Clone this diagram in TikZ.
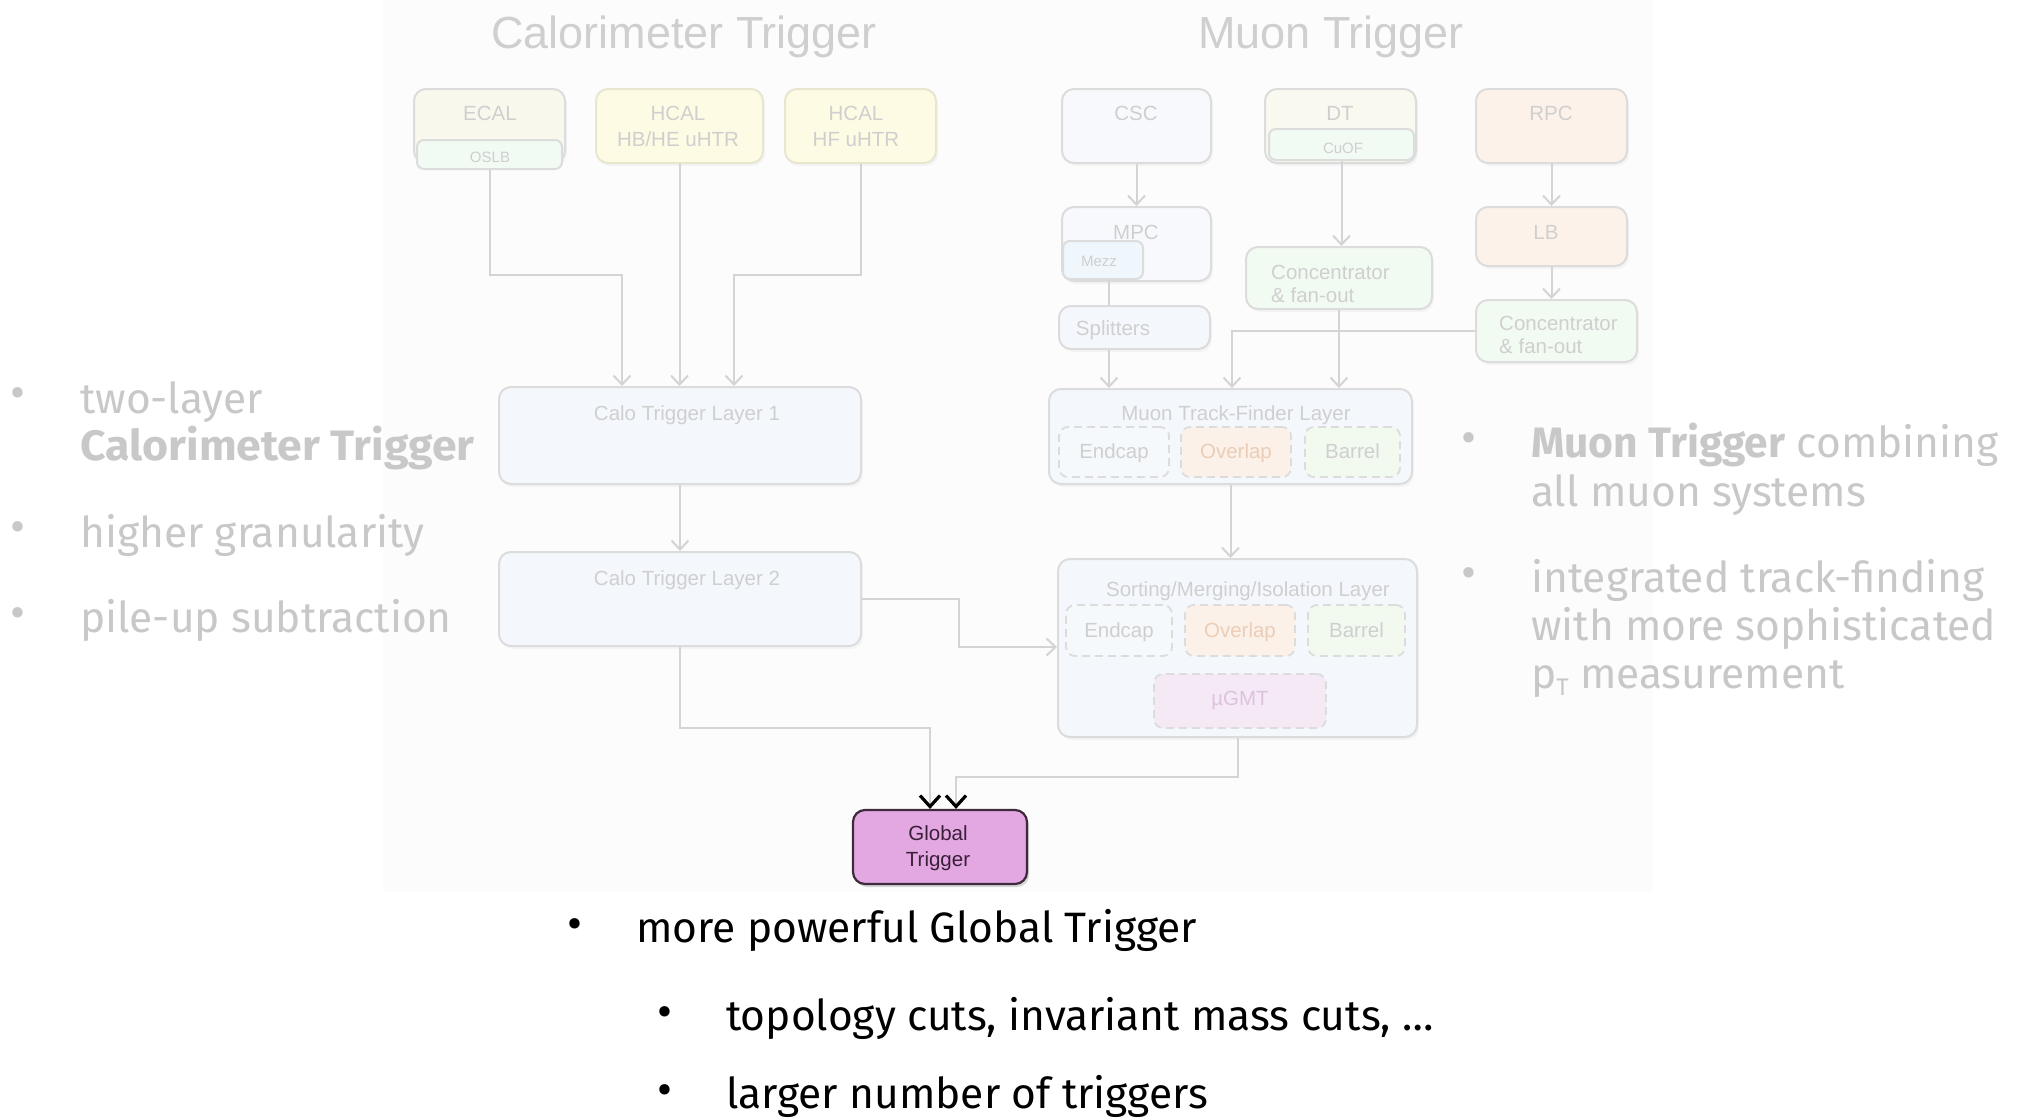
\documentclass[tikz,border=0pt]{standalone}
\usepackage{fontspec}
\setmainfont{Liberation Sans}
\newfontfamily\fira{Fira Sans}
\usetikzlibrary{arrows.meta,fit,calc,shadows}
\definecolor{fadetxt}{HTML}{C8C8C8}
\definecolor{boxtxt}{HTML}{CFCFCF}
\definecolor{edge}{HTML}{DCDCDC}
\definecolor{linec}{HTML}{D4D4D4}
\definecolor{bgc}{HTML}{FCFCFC}
\definecolor{ecalfill}{HTML}{F8F8EC}
\definecolor{oslbfill}{HTML}{F1FAF3}
\definecolor{hcalfill}{HTML}{FDFBE4}
\definecolor{hcaledge}{HTML}{E9E6D0}
\definecolor{cscfill}{HTML}{F8F9FC}
\definecolor{dtfill}{HTML}{FAF9EF}
\definecolor{rpcfill}{HTML}{FDF2EA}
\definecolor{concfill}{HTML}{F2FBF2}
\definecolor{layerfill}{HTML}{F4F8FC}
\definecolor{endcapfill}{HTML}{F6F9FC}
\definecolor{overlapfill}{HTML}{FCF1E8}
\definecolor{overlaptxt}{HTML}{EBCDB8}
\definecolor{barrelfill}{HTML}{F2FAF0}
\definecolor{ugmtfill}{HTML}{F6E9F6}
\definecolor{ugmttxt}{HTML}{DCC3DC}
\definecolor{mezzfill}{HTML}{EFF6FC}
\definecolor{gtfill}{HTML}{E3A8E1}
\definecolor{gtedge}{HTML}{3E2A3C}
\definecolor{gttxt}{HTML}{3B1F3A}
\tikzset{
  box/.style={draw=edge, line width=2pt, rounded corners=12pt, inner sep=0pt,
    drop shadow={opacity=0.06, shadow xshift=2pt, shadow yshift=-3pt}},
  subbox/.style={draw=edge, line width=2pt, rounded corners=7pt, inner sep=0pt},
  dbox/.style={draw=edge, line width=1.8pt, dash pattern=on 8pt off 5pt, rounded corners=9pt, inner sep=0pt},
  lbl/.style={text=boxtxt, font=\fontsize{20.5}{26}\selectfont, align=center, inner sep=0pt, anchor=mid},
  mlbl/.style={text=boxtxt, font=\fontsize{20.5}{26}\selectfont, align=center, inner sep=0pt, anchor=center},
  slbl/.style={text=boxtxt, font=\fontsize{15}{18}\selectfont, inner sep=0pt, anchor=mid},
  clbl/.style={text=boxtxt, font=\fontsize{20.5}{23}\selectfont, align=left, inner sep=0pt, anchor=west},
  arr/.style={draw=linec, line width=2pt, -{Straight Barb[length=9pt,width=17pt,line width=2pt]}},
  gtarr/.style={draw=linec, line width=2pt, -{Straight Barb[length=11pt,width=20pt,line width=3.2pt,color=black]}},
  plain/.style={draw=linec, line width=2pt},
  btxt/.style={font=\fira\fontsize{42.5}{48}\selectfont, text=fadetxt, inner sep=0pt, anchor=base west},
  bull/.style={font=\fira\fontsize{46}{48}\selectfont, text=fadetxt, inner sep=0pt, anchor=center},
  ktxt/.style={font=\fira\fontsize{42.5}{48}\selectfont, text=black, inner sep=0pt, anchor=base west},
  kbull/.style={font=\fira\fontsize{46}{48}\selectfont, text=black, inner sep=0pt, anchor=center},
  title/.style={text=boxtxt, font=\fontsize{45}{50}\selectfont, inner sep=0pt, anchor=base}
}
\begin{document}
\begin{tikzpicture}[x=1pt, y=-1pt]
\useasboundingbox (0,0) rectangle (2018,1119);
\fill[white] (0,0) rectangle (2018,1119);
\fill[bgc] (383,0) rectangle (1653,892);

% titles
\node[title] (tcalo) at (684,48) {Calorimeter Trigger};
\node[title] (tmuon) at (1331,48) {Muon Trigger};

% calorimeter boxes
\node[box, fill=ecalfill, fit={(414,89) (565,163)}] (ecal) {};
\node[subbox, fill=oslbfill, fit={(417,140) (562,169)}] (oslb) {};
\node[lbl] at (490,118) {ECAL};
\node[slbl] at (490,160) {OSLB};
\node[box, fill=hcalfill, draw=hcaledge, fit={(596,89) (763,163)}] (hbhe) {};
\node[mlbl] at (678,126) {HCAL\\HB/HE uHTR};
\node[box, fill=hcalfill, draw=hcaledge, fit={(785,89) (936,163)}] (hf) {};
\node[mlbl] at (856,126) {HCAL\\HF uHTR};

\node[box, fill=layerfill, fit={(499,387) (861,484)}] (l1) {};
\node[lbl] at (687,418) {Calo Trigger Layer 1};
\node[box, fill=layerfill, fit={(499,552) (861,646)}] (l2) {};
\node[lbl] at (687,583) {Calo Trigger Layer 2};

% muon boxes
\node[box, fill=cscfill, fit={(1062,89) (1211,163)}] (csc) {};
\node[lbl] at (1136,118) {CSC};
\node[box, fill=dtfill, fit={(1265,89) (1416,163)}] (dt) {};
\node[subbox, fill=oslbfill, fit={(1269,129) (1414,160)}] (cuof) {};
\node[lbl] at (1340,118) {DT};
\node[slbl] at (1343,151) {CuOF};
\node[box, fill=rpcfill, fit={(1476,89) (1627,163)}] (rpc) {};
\node[lbl] at (1551,118) {RPC};

\node[box, fill=cscfill, fit={(1062,207) (1211,281)}] (mpc) {};
\node[lbl] at (1136,237) {MPC};
\node[subbox, fill=mezzfill, fit={(1063,241) (1143,279)}] (mezz) {};
\node[slbl] at (1099,264) {Mezz};
\node[box, fill=layerfill, fit={(1059,306) (1210,349)}] (split) {};
\node[lbl] at (1113,333) {Splitters};

\node[box, fill=concfill, fit={(1246,247) (1432,309)}] (conc1) {};
\node[clbl] at (1271,284) {Concentrator\\\& fan-out};
\node[box, fill=rpcfill, fit={(1476,207) (1627,266)}] (lb) {};
\node[lbl] at (1546,237) {LB};
\node[box, fill=concfill, fit={(1476,300) (1637,362)}] (conc2) {};
\node[clbl] at (1499,335) {Concentrator\\\& fan-out};

\node[box, fill=layerfill, fit={(1049,389) (1412,484)}] (mtf) {};
\node[lbl] at (1236,418) {Muon Track-Finder Layer};
\node[dbox, fill=endcapfill, fit={(1059,427) (1169,477)}] (mtfe) {};
\node[dbox, fill=overlapfill, fit={(1181,427) (1291,477)}] (mtfo) {};
\node[dbox, fill=barrelfill, fit={(1305,427) (1400,477)}] (mtfb) {};
\node[lbl] at ($(mtfe)+(0,4)$) {Endcap};
\node[lbl, text=overlaptxt] at ($(mtfo)+(0,4)$) {Overlap};
\node[lbl] at ($(mtfb)+(0,4)$) {Barrel};

\node[box, fill=layerfill, fit={(1058,559) (1417,737)}] (sort) {};
\node[lbl] at (1248,594) {Sorting/Merging/Isolation Layer};
\node[dbox, fill=endcapfill, fit={(1066,605) (1172,656)}] (se) {};
\node[dbox, fill=overlapfill, fit={(1185,605) (1295,656)}] (so) {};
\node[dbox, fill=barrelfill, fit={(1308,605) (1405,656)}] (sb) {};
\node[dbox, fill=ugmtfill, fit={(1154,674) (1326,728)}] (ugmt) {};
\node[lbl] at ($(se)+(0,4)$) {Endcap};
\node[lbl, text=overlaptxt] at ($(so)+(0,4)$) {Overlap};
\node[lbl] at ($(sb)+(0,4)$) {Barrel};
\node[lbl, text=ugmttxt] at ($(ugmt)+(0,2)$) {µGMT};

% global trigger
\node[box, fill=gtfill, draw=gtedge, line width=2.2pt, drop shadow={opacity=0.25, shadow xshift=2pt, shadow yshift=-3pt}, fit={(853,810) (1027,884)}] (gt) {};
\node[mlbl, text=gttxt] at (938,848) {Global\\Trigger};

% calorimeter connectors
\coordinate (e1) at (622,275);
\coordinate (h1) at (734,275);
\draw[arr] (oslb.south) |- (e1) -- (e1 |- l1.north);
\draw[arr] (hbhe.south) -- (hbhe.south |- l1.north);
\draw[arr] (hf.south) |- (h1) -- (h1 |- l1.north);
\draw[arr] (l1.south) -- (l2.north);
\coordinate (s2) at (959,647);
\draw[arr] (l2.east) -| (s2) -- (s2 -| sort.west);
\coordinate (g1) at (930,728);
\coordinate (g2) at (956,777);
\draw[gtarr] (l2.south) |- (g1) -- (g1 |- gt.north);
\draw[gtarr] (sort.south) |- (g2) -- (g2 |- gt.north);

% muon connectors
\coordinate (m1) at (1109,0);
\coordinate (m2) at (1232,0);
\draw[arr] (csc.south) -- (csc.south |- mpc.north);
\draw[plain] (m1 |- mezz.south) -- (m1 |- split.north);
\draw[arr] (m1 |- split.south) -- (m1 |- mtf.north);
\draw[arr] (cuof.south) -- (cuof.south |- conc1.north);
\draw[arr] (conc1.south) -- (conc1.south |- mtf.north);
\draw[arr] (rpc.south) -- (rpc.south |- lb.north);
\draw[arr] (lb.south) -- (lb.south |- conc2.north);
\draw[arr] (conc2.west) -| (m2 |- mtf.north);
\draw[arr] (mtf.south) -- (mtf.south |- sort.north);

% left bullets
\node[bull] at (18,398) {•};
\node[btxt] at (80,413) {two-layer};
\node[btxt] at (80,460) {\scalebox{1.05}[1]{\bfseries Calorimeter Trigger}};
\node[bull] at (18,532) {•};
\node[btxt] at (80,547) {higher granularity};
\node[bull] at (18,618) {•};
\node[btxt] at (80,632) {pile-up subtraction};

% right bullets
\node[bull] at (1469,443) {•};
\node[btxt] at (1531,457) {{\bfseries Muon Trigger} combining};
\node[btxt] at (1531,506) {all muon systems};
\node[bull] at (1469,578) {•};
\node[btxt] at (1531,592) {integrated track-finding};
\node[btxt] at (1531,640) {with more sophisticated};
\node[btxt] at (1531,688) {p{\fontsize{24}{24}\selectfont\raisebox{-7pt}{T}} measurement};

% bottom bullets
\node[kbull] at (575,929) {•};
\node[ktxt] at (636,942) {more powerful Global Trigger};
\node[kbull] at (665,1017) {•};
\node[ktxt] at (726,1030) {topology cuts, invariant mass cuts, …};
\node[kbull] at (665,1095) {•};
\node[ktxt] at (726,1108) {larger number of triggers};
\end{tikzpicture}
\end{document}
